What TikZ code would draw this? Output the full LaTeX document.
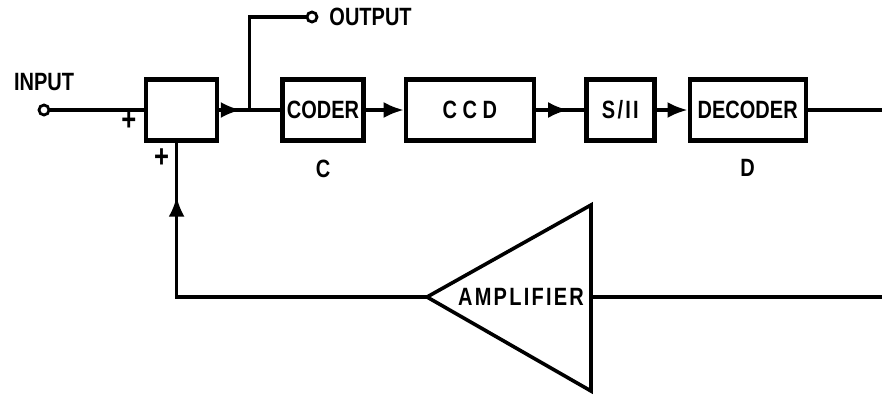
\documentclass[tikz,border=0pt]{standalone}
\usepackage{fontspec}
\setmainfont{Liberation Sans}[FakeStretch=0.8]
\newfontfamily\widefont{Liberation Sans}[FakeStretch=0.8,LetterSpace=9]
\usetikzlibrary{arrows.meta,positioning,calc,decorations.markings}

\begin{document}
\begin{tikzpicture}[
  x=1pt,y=1pt,
  font=\fontsize{12.5}{14}\selectfont\bfseries,
  box/.style={draw,line width=2.2pt,minimum height=30.5pt,inner sep=2pt},
  term/.style={draw,circle,line width=1.4pt,minimum size=5pt,inner sep=0pt},
  sign/.style={font=\fontsize{16}{16}\selectfont\bfseries,inner sep=0pt},
  wire/.style={line width=1.6pt},
  arr/.style={wire,-{Latex[length=10pt,width=8pt]}},
  midarr/.style={wire,postaction={decorate},
    decoration={markings,mark=at position #1 with {\arrow{Latex[length=10pt,width=8pt]}}}}
]
\useasboundingbox (0,0) rectangle (441,199);

% forward path
\node[box,minimum width=35.5pt] (sum) at (90.8,144) {};
\node[box,minimum width=40.5pt,right=30.5pt of sum] (coder) {CODER};
\node[box,minimum width=64pt,right=19pt of coder] (ccd) {C C D};
\node[box,minimum width=34pt,right=24pt of ccd] (sh) {\widefont S/II};
\node[box,minimum width=58pt,right=15.5pt of sh] (decoder) {DECODER};
\node[below=5pt of coder] (clbl) {C};
\node[below=5pt of decoder] (dlbl) {D};

% terminals
\node[term] (in) at (22,144) {};
\node[above=3pt of in] (inlbl) {INPUT};
\node[term] (out) at (156,190.5) {};
\node[right=2pt of out] (outlbl) {OUTPUT};
\node[sign] (plusa) at ([xshift=-7.5pt,yshift=-5.5pt]sum.west) {+};
\node[sign] (plusb) at ([xshift=-10pt,yshift=-7.5pt]sum.south) {+};

% amplifier
\coordinate (amptip) at (213.5,50.5);
\coordinate (ampbase) at (295.5,50.5);
\draw[line width=1.8pt] (amptip) -- (295.5,96.5) -- (295.5,3.5) -- cycle;
\node (amp) at (260.5,50.5) {\widefont AMPLIFIER};

\coordinate (jn) at ($(sum.east)!0.5!(coder.west)$);
\coordinate (decend) at (441,144);
\coordinate (ampend) at (441,50.5);
\coordinate (suminb) at ([xshift=-2.5pt]sum.south);

\draw[wire] (in) -- (sum);
\draw[midarr=-4.5pt] (sum) -- (jn);
\draw[wire] (jn) -- (coder);
\draw[wire] (jn) |- (out);
\draw[arr] (coder) -- (ccd);
\draw[midarr=-8pt] (ccd) -- (sh);
\draw[arr] (sh) -- (decoder);
\draw[wire] (decoder) -- (decend);
\draw[wire] (ampbase) -- (ampend);
\draw[midarr=-27pt] (amptip) -| (suminb);
\end{tikzpicture}
\end{document}
